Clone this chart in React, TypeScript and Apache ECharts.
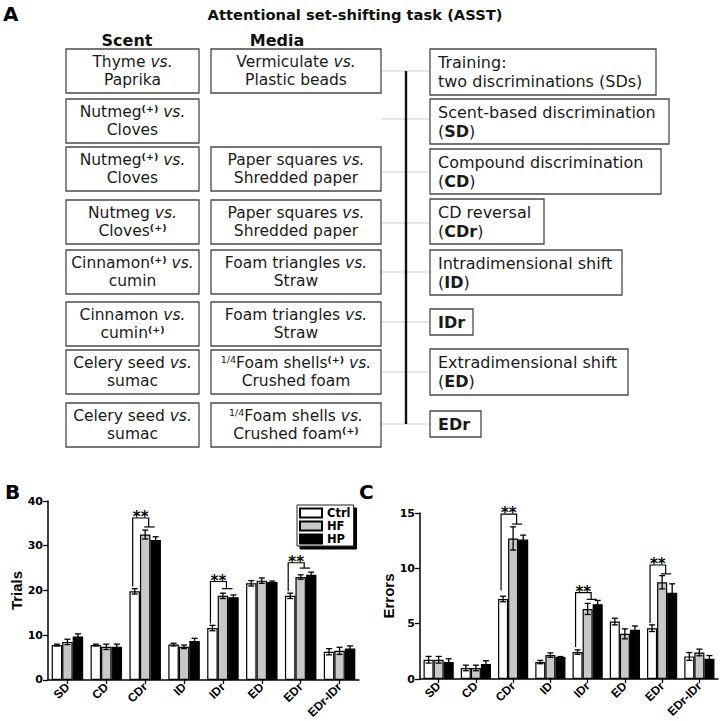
import React, { useEffect, useRef } from "react";
import * as echarts from "echarts";

// ---------- DATA ----------
const CATEGORIES = ["SD", "CD", "CDr", "ID", "IDr", "ED", "EDr", "EDr-IDr"];
const GROUPS = ["Ctrl", "HF", "HP"];

const TRIALS_CTRL = [7.8, 7.8, 19.8, 7.9, 11.6, 21.6, 18.8, 6.3];
const TRIALS_HF = [8.5, 7.4, 32.5, 7.4, 18.8, 22.2, 23.0, 6.5];
const TRIALS_HP = [9.7, 7.4, 31.3, 8.7, 18.5, 21.9, 23.5, 7.0];
const TRIALS_CTRL_SEM = [0.2, 0.2, 0.6, 0.3, 0.6, 0.6, 0.6, 0.7];
const TRIALS_HF_SEM = [0.6, 0.6, 1.0, 0.4, 0.6, 0.6, 0.5, 0.8];
const TRIALS_HP_SEM = [0.6, 0.6, 0.7, 0.6, 0.5, 0.2, 0.6, 0.6];

const ERRORS_CTRL = [1.74, 1.0, 7.23, 1.53, 2.43, 5.19, 4.59, 2.04];
const ERRORS_HF = [1.74, 1.0, 12.7, 2.16, 6.33, 4.08, 8.74, 2.4];
const ERRORS_HP = [1.53, 1.35, 12.6, 1.98, 6.75, 4.44, 7.8, 1.82];
const ERRORS_CTRL_SEM = [0.3, 0.25, 0.25, 0.15, 0.2, 0.3, 0.3, 0.35];
const ERRORS_HF_SEM = [0.3, 0.25, 1.05, 0.2, 0.5, 0.45, 0.6, 0.3];
const ERRORS_HP_SEM = [0.3, 0.3, 0.4, 0.05, 0.35, 0.35, 0.8, 0.3];

// significance brackets: [category index, start value, top value, lower bar value]
const TRIALS_SIG = [
  [2, 20.9, 36.2, 34.2],
  [4, 12.6, 22.0, 20.4],
  [6, 19.8, 26.2, 25.0],
];
const ERRORS_SIG = [
  [2, 8.0, 14.9, 14.0],
  [4, 2.9, 7.8, 7.2],
  [6, 5.05, 10.3, 9.5],
];

const TRIALS_AXIS = { min: 0, max: 40, interval: 10 };
const ERRORS_AXIS = { min: 0, max: 15, interval: 5 };

// Panel A texts
const TITLE = "Attentional set-shifting task (ASST)";
const SCENT_HEADER = "Scent";
const MEDIA_HEADER = "Media";
const SCENT_ROWS = [
  "Thyme {i|vs.}\nPaprika",
  "Nutmeg{s|(+)} {i|vs.}\nCloves",
  "Nutmeg{s|(+)} {i|vs.}\nCloves",
  "Nutmeg {i|vs.}\nCloves{s|(+)}",
  "Cinnamon{s|(+)} {i|vs.}\ncumin",
  "Cinnamon {i|vs.}\ncumin{s|(+)}",
  "Celery seed {i|vs.}\nsumac",
  "Celery seed {i|vs.}\nsumac",
];
const MEDIA_ROWS = [
  "Vermiculate {i|vs.}\nPlastic beads",
  "",
  "Paper squares {i|vs.}\nShredded paper",
  "Paper squares {i|vs.}\nShredded paper",
  "Foam triangles {i|vs.}\nStraw",
  "Foam triangles {i|vs.}\nStraw",
  "{f|1/4}Foam shells{s|(+)} {i|vs.}\nCrushed foam",
  "{f|1/4}Foam shells {i|vs.}\nCrushed foam{s|(+)}",
];
const STAGE_ROWS = [
  "Training:\ntwo discriminations (SDs)",
  "Scent-based discrimination\n({b|SD})",
  "Compound discrimination\n({b|CD})",
  "CD reversal\n({b|CDr})",
  "Intradimensional shift\n({b|ID})",
  "{b|IDr}",
  "Extradimensional shift\n({b|ED})",
  "{b|EDr}",
];

// ---------- LAYOUT ----------
const DV = "DejaVu Sans";
const LS = "Liberation Sans";
const ROW_TOPS = [49, 99, 147, 200, 250, 302, 350, 403];
const ROW_H = 44;
const SCENT_X = [66, 199];
const MEDIA_X = [211, 381];
const STAGE_LEFT = 430;
const STAGE_BOX = [
  [49, 95, 656],
  [99, 144, 669],
  [149, 194, 661],
  [199, 244, 544],
  [250, 295, 622],
  [309, 335, 473],
  [349, 395, 628],
  [411, 437, 481],
];
const CONNECT_Y = [71, 119, 172, 223, 272, 322, 372, 424];
const SPINE_X = 406;

const BAR_FRAC = 0.27;
const COLORS = ["#ffffff", "#c8c8c8", "#000000"];

function rich(size: number) {
  return {
    i: { fontStyle: "italic", fontSize: size, fontFamily: DV, fill: "#1a1a1a" },
    s: { fontSize: 9.5, fontWeight: "bold", fontFamily: DV, fill: "#1a1a1a", verticalAlign: "top", lineHeight: 10 },
    f: { fontSize: 9.5, fontFamily: DV, fill: "#1a1a1a", verticalAlign: "top", lineHeight: 10 },
    b: { fontWeight: "bold", fontSize: size, fontFamily: DV, fill: "#1a1a1a" },
  };
}

function buildGraphic() {
  const els: any[] = [];
  els.push({
    type: "text", x: 3, y: 4, z: 10,
    style: { text: "A", fontFamily: DV, fontWeight: "bold", fontSize: 20, fill: "#000" },
  });
  els.push({
    type: "text", x: 5, y: 482, z: 10,
    style: { text: "B", fontFamily: DV, fontWeight: "bold", fontSize: 20, fill: "#000", align: "left" },
  });
  els.push({
    type: "text", x: 359, y: 482, z: 10,
    style: { text: "C", fontFamily: DV, fontWeight: "bold", fontSize: 20, fill: "#000" },
  });
  els.push({
    type: "text", x: 355, y: 14, z: 10,
    style: { text: TITLE, fontFamily: DV, fontWeight: "bold", fontSize: 14.7, fill: "#111", align: "center", verticalAlign: "middle" },
  });
  els.push({
    type: "text", x: 127, y: 40.5, z: 10,
    style: { text: SCENT_HEADER, fontFamily: DV, fontWeight: "bold", fontSize: 16, fill: "#111", align: "center", verticalAlign: "middle" },
  });
  els.push({
    type: "text", x: 277, y: 40.5, z: 10,
    style: { text: MEDIA_HEADER, fontFamily: DV, fontWeight: "bold", fontSize: 16, fill: "#111", align: "center", verticalAlign: "middle" },
  });
  const boxStyle = { fill: "#fff", stroke: "#4a4a4a", lineWidth: 1.3 };
  els.push({
    type: "line", z: 4,
    shape: { x1: SPINE_X, y1: CONNECT_Y[0], x2: SPINE_X, y2: CONNECT_Y[CONNECT_Y.length - 1] },
    style: { stroke: "#111", lineWidth: 2.4 },
  });
  CONNECT_Y.forEach((y) => {
    els.push({
      type: "line", z: 3,
      shape: { x1: MEDIA_X[1], y1: y, x2: STAGE_LEFT, y2: y },
      style: { stroke: "#cfcfcf", lineWidth: 1 },
    });
  });
  ROW_TOPS.forEach((top, i) => {
    els.push({
      type: "rect", z: 5,
      shape: { x: SCENT_X[0], y: top, width: SCENT_X[1] - SCENT_X[0], height: ROW_H },
      style: boxStyle,
    });
    els.push({
      type: "text", z: 10, x: (SCENT_X[0] + SCENT_X[1]) / 2, y: top + ROW_H / 2,
      style: {
        text: SCENT_ROWS[i], fontFamily: DV, fontSize: 15.5, fill: "#1a1a1a",
        align: "center", verticalAlign: "middle", lineHeight: 18, rich: rich(15.5),
      },
    });
    if (MEDIA_ROWS[i]) {
      els.push({
        type: "rect", z: 5,
        shape: { x: MEDIA_X[0], y: top, width: MEDIA_X[1] - MEDIA_X[0], height: ROW_H },
        style: boxStyle,
      });
      els.push({
        type: "text", z: 10, x: (MEDIA_X[0] + MEDIA_X[1]) / 2, y: top + ROW_H / 2,
        style: {
          text: MEDIA_ROWS[i], fontFamily: DV, fontSize: 15.5, fill: "#1a1a1a",
          align: "center", verticalAlign: "middle", lineHeight: 18, rich: rich(15.5),
        },
      });
    }
    const [t, b, r] = STAGE_BOX[i];
    els.push({
      type: "rect", z: 5,
      shape: { x: STAGE_LEFT, y: t, width: r - STAGE_LEFT, height: b - t },
      style: boxStyle,
    });
    const single = !STAGE_ROWS[i].includes("\n");
    els.push({
      type: "text", z: 10, x: STAGE_LEFT + 8, y: (t + b) / 2,
      style: {
        text: STAGE_ROWS[i], fontFamily: DV, fontSize: 16, fill: "#1a1a1a",
        align: "left", verticalAlign: "middle", lineHeight: 19, rich: rich(16),
        fontWeight: single ? "bold" : "normal",
      },
    });
  });
  return els;
}

function barSeries(name: string, data: number[], idx: number, axis: number) {
  return {
    type: "bar", name, xAxisIndex: axis, yAxisIndex: axis, data,
    barWidth: BAR_FRAC * 100 + "%", barGap: "0%",
    itemStyle: { color: COLORS[idx], borderColor: "#000", borderWidth: 1.2 },
    z: 2,
  };
}

function errSeries(vals: number[], sems: number[], idx: number, axis: number) {
  return {
    type: "custom", xAxisIndex: axis, yAxisIndex: axis, z: 5,
    data: vals.map((v, i) => [i, v, sems[i]]),
    encode: { x: 0, y: 1 },
    renderItem: (params: any, api: any) => {
      const ci = api.value(0), v = api.value(1), e = api.value(2);
      const w = api.size([1, 0])[0];
      const bw = w * BAR_FRAC;
      const x = api.coord([ci, v])[0] + (idx - 1) * bw;
      const yT = api.coord([ci, v + e])[1];
      const yB = api.coord([ci, v - e])[1];
      const cap = 3;
      const st = { stroke: "#000", lineWidth: 1.3 };
      return {
        type: "group",
        children: [
          { type: "line", shape: { x1: x, y1: yT, x2: x, y2: yB }, style: st },
          { type: "line", shape: { x1: x - cap, y1: yT, x2: x + cap, y2: yT }, style: st },
          { type: "line", shape: { x1: x - cap, y1: yB, x2: x + cap, y2: yB }, style: st },
        ],
      };
    },
  };
}

function sigSeries(sig: number[][], axis: number) {
  return {
    type: "custom", xAxisIndex: axis, yAxisIndex: axis, z: 6,
    data: sig,
    encode: { x: 0, y: 2 },
    renderItem: (params: any, api: any) => {
      const ci = api.value(0);
      const w = api.size([1, 0])[0];
      const bw = w * BAR_FRAC;
      const cx = api.coord([ci, 0])[0];
      const yb = api.coord([ci, api.value(1)])[1];
      const yt = api.coord([ci, api.value(2)])[1];
      const ys = api.coord([ci, api.value(3)])[1];
      const lx = cx - bw - 2;
      const mx = cx + 3.5;
      const st = { stroke: "#000", lineWidth: 1.2, fill: "none" };
      return {
        type: "group",
        children: [
          { type: "polyline", shape: { points: [[lx, yb], [lx, yt], [mx, yt], [mx, ys]] }, style: st },
          { type: "line", shape: { x1: cx - 1, y1: ys, x2: cx + bw - 1, y2: ys }, style: st },
          {
            type: "text", x: (lx + mx) / 2, y: yt - 1,
            style: { text: "**", fontFamily: DV, fontWeight: "bold", fontSize: 15, fill: "#000", align: "center", verticalAlign: "middle" },
          },
        ],
      };
    },
  };
}

function yAxis(gridIndex: number, ax: any, name: string, nameGap: number) {
  return {
    type: "value", gridIndex, ...ax, name, nameLocation: "middle", nameGap,
    nameTextStyle: { fontFamily: LS, fontWeight: "bold", fontSize: 15, color: "#000" },
    axisLine: { show: true, lineStyle: { color: "#000", width: 1.5 } },
    axisTick: { show: true, length: 5, lineStyle: { color: "#000", width: 1.3 } },
    axisLabel: { fontFamily: DV, fontWeight: "bold", fontSize: 11, color: "#000", margin: 5 },
    splitLine: { show: false },
  };
}

function xAxis(gridIndex: number) {
  return {
    type: "category", gridIndex, data: CATEGORIES,
    axisLine: { show: true, lineStyle: { color: "#000", width: 1.5 } },
    axisTick: { show: true, alignWithLabel: true, length: 4, lineStyle: { color: "#000", width: 1.3 } },
    axisLabel: {
      rotate: 45, interval: 0, margin: 5,
      fontFamily: LS, fontWeight: "bold", fontSize: 12, color: "#000",
    },
  };
}

export default function App() {
  const ref = useRef<HTMLDivElement>(null);
  useEffect(() => {
    const chart = echarts.init(ref.current as HTMLDivElement, null, { renderer: "svg" });
    const option: any = {
      animation: false,
      backgroundColor: "#fff",
      grid: [
        { left: 48, top: 501, width: 311, height: 180 },
        { left: 420, top: 513, width: 298, height: 166 },
      ],
      xAxis: [xAxis(0), xAxis(1)],
      yAxis: [yAxis(0, TRIALS_AXIS, "Trials", 20), yAxis(1, ERRORS_AXIS, "Errors", 19)],
      legend: {
        data: GROUPS, orient: "vertical", left: 297, top: 505,
        itemWidth: 22, itemHeight: 9, itemGap: 1, padding: [2, 3, 1, 2],
        borderColor: "#222", borderWidth: 1, backgroundColor: "#fff",
        shadowColor: "#000", shadowOffsetX: 3, shadowOffsetY: 3, shadowBlur: 0.01,
        selectedMode: false, icon: "rect",
        textStyle: { fontFamily: DV, fontWeight: "bold", fontSize: 11.5, color: "#000", lineHeight: 12 },
      },
      graphic: buildGraphic(),
      series: [
        barSeries(GROUPS[0], TRIALS_CTRL, 0, 0),
        barSeries(GROUPS[1], TRIALS_HF, 1, 0),
        barSeries(GROUPS[2], TRIALS_HP, 2, 0),
        errSeries(TRIALS_CTRL, TRIALS_CTRL_SEM, 0, 0),
        errSeries(TRIALS_HF, TRIALS_HF_SEM, 1, 0),
        errSeries(TRIALS_HP, TRIALS_HP_SEM, 2, 0),
        sigSeries(TRIALS_SIG, 0),
        barSeries(GROUPS[0], ERRORS_CTRL, 0, 1),
        barSeries(GROUPS[1], ERRORS_HF, 1, 1),
        barSeries(GROUPS[2], ERRORS_HP, 2, 1),
        errSeries(ERRORS_CTRL, ERRORS_CTRL_SEM, 0, 1),
        errSeries(ERRORS_HF, ERRORS_HF_SEM, 1, 1),
        errSeries(ERRORS_HP, ERRORS_HP_SEM, 2, 1),
        sigSeries(ERRORS_SIG, 1),
      ],
    };
    chart.setOption(option);
    return () => chart.dispose();
  }, []);
  return (
    <div
      ref={ref}
      style={{ position: "absolute", left: 0, top: 0, width: 720, height: 721, background: "#fff" }}
    />
  );
}
